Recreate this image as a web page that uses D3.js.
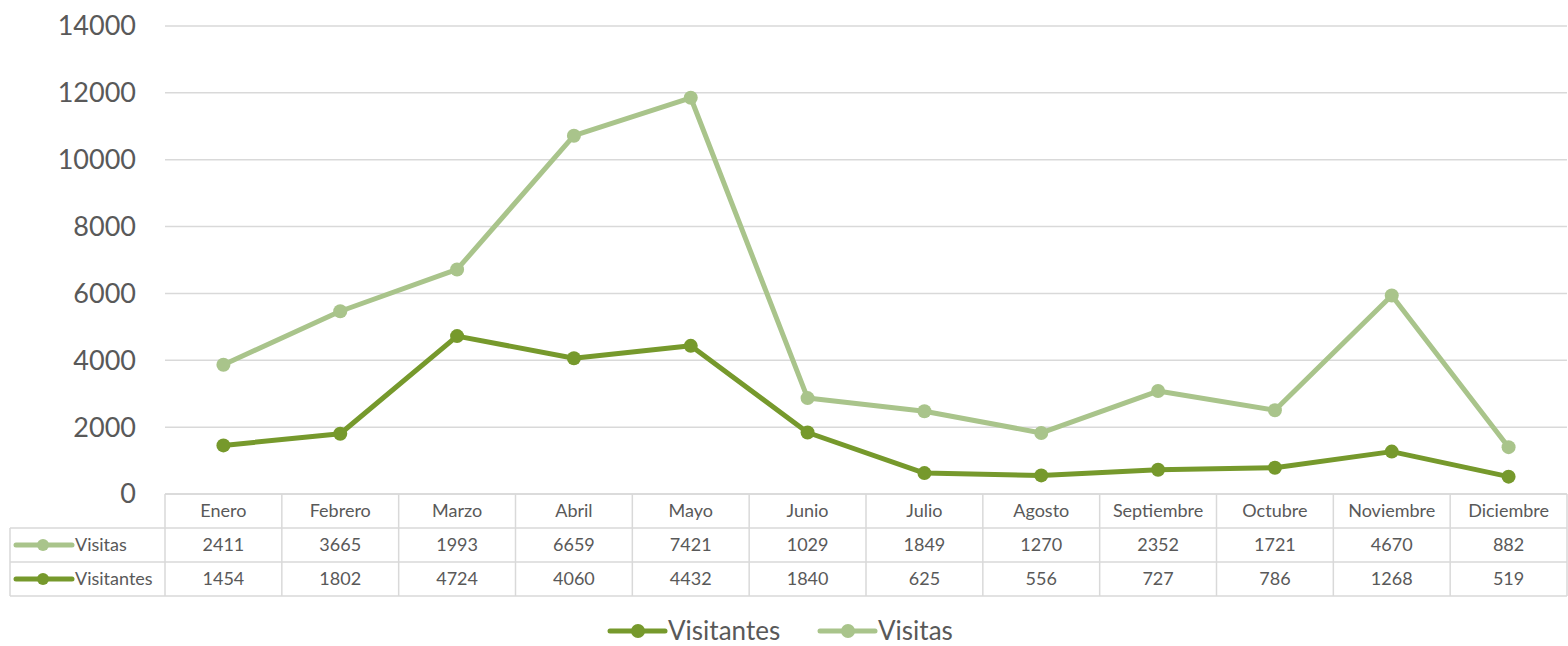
<!DOCTYPE html>
<html>
<head>
<meta charset="utf-8">
<script src="https://cdn.jsdelivr.net/npm/d3@7"></script>
<style>
  body { margin: 0; background: #fff; }
  svg { display: block; font-family: Lato, "Open Sans", sans-serif; }
</style>
</head>
<body>
<svg id="chart" width="1568" height="646"></svg>
<script>
// data from the chart table
var months = ['Enero', 'Febrero', 'Marzo', 'Abril', 'Mayo', 'Junio', 'Julio', 'Agosto', 'Septiembre', 'Octubre', 'Noviembre', 'Diciembre'];
var visitas = [2411, 3665, 1993, 6659, 7421, 1029, 1849, 1270, 2352, 1721, 4670, 882];
var visitantes = [1454, 1802, 4724, 4060, 4432, 1840, 625, 556, 727, 786, 1268, 519];
var yTicks = [0, 2000, 4000, 6000, 8000, 10000, 12000, 14000];

var cLight = '#a9c48b', cDark = '#76992c', grid = '#d9d9d9', txt = '#595959';

var svg = d3.select('#chart');
var plotL = 165, plotR = 1567, plotT = 26, plotB = 494;

var x = d3.scaleBand().domain(months).range([plotL, plotR]);
var y = d3.scaleLinear().domain([0, 14000]).range([plotB, plotT]);

// gridlines + y labels
svg.selectAll('.grid').data(yTicks).enter().append('line')
  .attr('x1', plotL).attr('x2', plotR)
  .attr('y1', d => y(d)).attr('y2', d => y(d))
  .attr('stroke', grid).attr('stroke-width', 1.5);

svg.selectAll('.ylab').data(yTicks).enter().append('text')
  .attr('x', 136).attr('y', d => y(d))
  .attr('dy', '0.35em')
  .attr('text-anchor', 'end')
  .attr('fill', txt).style('font-size', '27px')
  .text(d => d);

// stacked lines: visitas sits on top of visitantes
var stacked = visitas.map((v, i) => v + visitantes[i]);
var series = [
  {name: 'Visitas', vals: stacked, color: cLight},
  {name: 'Visitantes', vals: visitantes, color: cDark}
];

var line = d3.line()
  .x((d, i) => x(months[i]) + x.bandwidth() / 2)
  .y(d => y(d));

series.forEach(function(s) {
  svg.append('path')
    .attr('d', line(s.vals))
    .attr('fill', 'none')
    .attr('stroke', s.color)
    .attr('stroke-width', 5)
    .attr('stroke-linejoin', 'round');
  svg.selectAll(null).data(s.vals).enter().append('circle')
    .attr('cx', (d, i) => x(months[i]) + x.bandwidth() / 2)
    .attr('cy', d => y(d))
    .attr('r', 7)
    .attr('fill', s.color);
});

// data table
var rowH = 34, tableLeft = 10;
var rows = [
  {name: 'Visitas', vals: visitas, color: cLight},
  {name: 'Visitantes', vals: visitantes, color: cDark}
];
var tg = svg.append('g').attr('stroke', grid).attr('stroke-width', 1.5);
// horizontal borders
tg.append('line').attr('x1', plotL).attr('x2', plotR).attr('y1', plotB).attr('y2', plotB);
[1, 2, 3].forEach(function(r) {
  tg.append('line').attr('x1', tableLeft).attr('x2', plotR)
    .attr('y1', plotB + r * rowH).attr('y2', plotB + r * rowH);
});
// vertical borders
tg.append('line').attr('x1', tableLeft).attr('x2', tableLeft)
  .attr('y1', plotB + rowH).attr('y2', plotB + 3 * rowH);
months.forEach(function(m) {
  tg.append('line').attr('x1', x(m)).attr('x2', x(m))
    .attr('y1', plotB).attr('y2', plotB + 3 * rowH);
});
tg.append('line').attr('x1', plotR).attr('x2', plotR)
  .attr('y1', plotB).attr('y2', plotB + 3 * rowH);

svg.selectAll('.mlab').data(months).enter().append('text')
  .attr('x', d => x(d) + x.bandwidth() / 2)
  .attr('y', plotB + rowH / 2).attr('dy', '0.35em')
  .attr('text-anchor', 'middle').attr('fill', txt).style('font-size', '18px')
  .text(d => d);

rows.forEach(function(r, ri) {
  var cy = plotB + rowH * (ri + 1) + rowH / 2;
  svg.append('line').attr('x1', 16).attr('x2', 72).attr('y1', cy).attr('y2', cy)
    .attr('stroke', r.color).attr('stroke-width', 5).attr('stroke-linecap', 'round');
  svg.append('circle').attr('cx', 43).attr('cy', cy).attr('r', 6).attr('fill', r.color);
  svg.append('text').attr('x', 75).attr('y', cy).attr('dy', '0.35em')
    .attr('fill', txt).style('font-size', '18px').text(r.name);
  svg.selectAll(null).data(r.vals).enter().append('text')
    .attr('x', (d, i) => x(months[i]) + x.bandwidth() / 2)
    .attr('y', cy).attr('dy', '0.35em')
    .attr('text-anchor', 'middle').attr('fill', txt).style('font-size', '18px')
    .text(d => d);
});

// legend
var legend = [
  {name: 'Visitantes', color: cDark, x: 610},
  {name: 'Visitas', color: cLight, x: 820}
];
legend.forEach(function(l) {
  var ly = 631;
  svg.append('line').attr('x1', l.x).attr('x2', l.x + 55).attr('y1', ly).attr('y2', ly)
    .attr('stroke', l.color).attr('stroke-width', 5).attr('stroke-linecap', 'round');
  svg.append('circle').attr('cx', l.x + 28).attr('cy', ly).attr('r', 7).attr('fill', l.color);
  svg.append('text').attr('x', l.x + 58).attr('y', ly).attr('dy', '0.35em')
    .attr('fill', txt).style('font-size', '26px').text(l.name);
});
</script>
</body>
</html>
